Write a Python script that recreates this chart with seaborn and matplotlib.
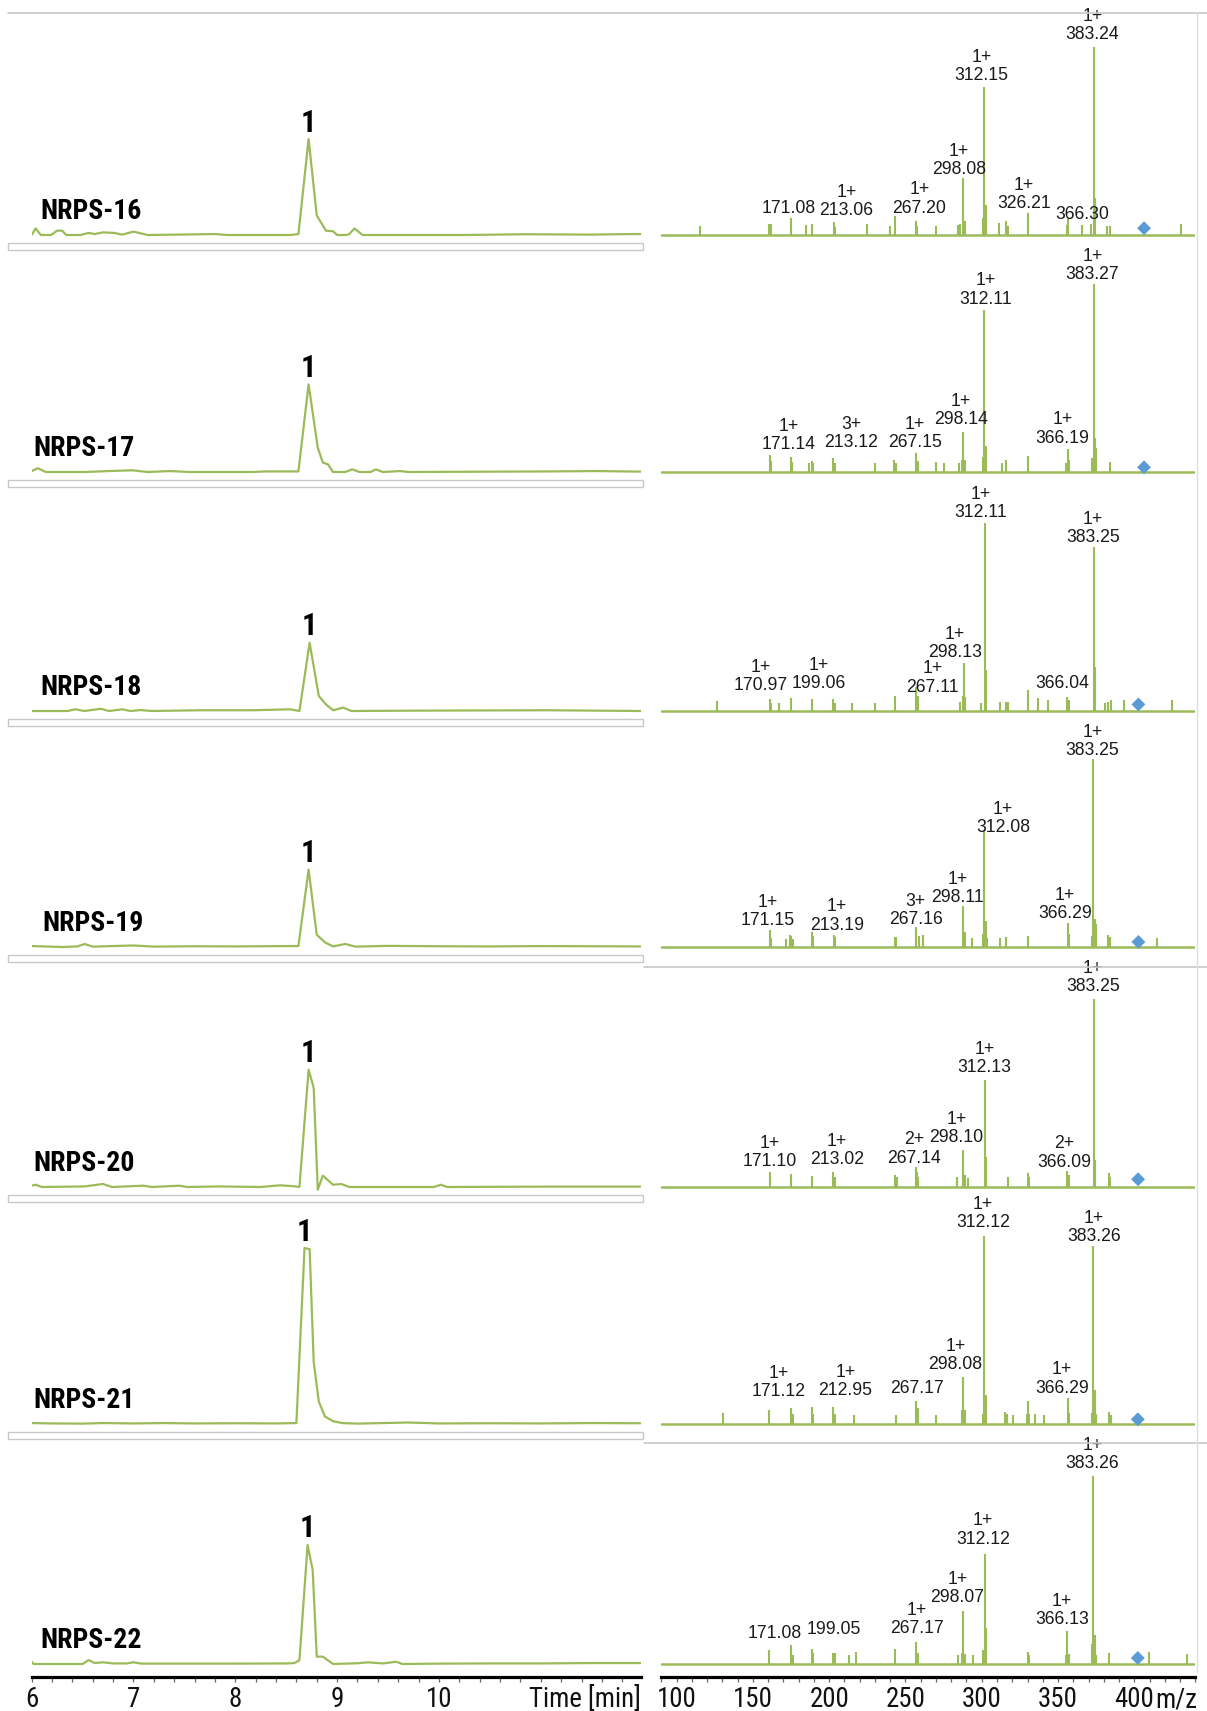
import matplotlib
matplotlib.use('Agg')
import matplotlib.pyplot as plt
from matplotlib import font_manager
from matplotlib.lines import Line2D
from matplotlib.patches import Rectangle
from matplotlib.ticker import MultipleLocator
import seaborn as sns

# ---- data ------------------------------------------------------------------
samples = ['NRPS-16', 'NRPS-17', 'NRPS-18', 'NRPS-19', 'NRPS-20', 'NRPS-21', 'NRPS-22']

# chromatograms: retention time [min] and relative signal
t_16 = [6.00, 6.04, 6.09, 6.19, 6.25, 6.30, 6.34, 6.48, 6.56, 6.62, 6.70, 6.81, 6.89, 7.00, 7.14, 7.43, 7.80,
        7.92, 8.54, 8.62, 8.72, 8.80, 8.89, 8.96, 9.00, 9.09, 9.12, 9.17, 9.25, 10.24, 10.86, 11.48, 11.89, 11.98]
i_16 = [0, 3.5, 0, 0, 2.3, 2.3, 0, 0, 1.1, 0.5, 1.4, 1.1, 0.2, 1.8, 0, 0.2, 0.5,
        0, 0, 0.5, 51.0, 10.5, 2.3, 2.0, 0, 0, 0.5, 3.5, 0, 0, 0.4, 0.2, 0.5, 0.5]
t_17 = [6.00, 6.06, 6.14, 6.52, 6.76, 6.99, 7.14, 7.36, 7.55, 8.17, 8.29, 8.62, 8.72, 8.81, 8.86, 8.91, 8.96,
        9.08, 9.15, 9.22, 9.33, 9.38, 9.45, 9.62, 9.70, 11.06, 11.56, 11.98]
i_17 = [0.5, 2.0, 0, 0, 0.5, 0.9, 0, 0.5, 0, 0, 0.3, 0.3, 46.6, 12.9, 5.0, 4.1, 0,
        0, 1.4, 0, 0, 1.4, 0, 0.5, 0, 0.3, 0.5, 0.2]
t_18 = [6.00, 6.35, 6.43, 6.52, 6.68, 6.76, 6.89, 6.97, 7.07, 7.18, 7.67, 8.17, 8.54, 8.63, 8.73, 8.82, 8.89,
        8.96, 9.06, 9.14, 9.82, 11.06, 11.98]
i_18 = [0, 0, 0.9, 0, 1.2, 0, 0.9, 0, 0.5, 0, 0.4, 0.4, 0.9, 0, 36.3, 8.0, 3.5,
        0.4, 1.8, 0, 0.2, 0.4, 0]
t_19 = [6.00, 6.30, 6.45, 6.52, 6.60, 6.80, 7.00, 7.20, 7.60, 8.00, 8.50, 8.62, 8.72, 8.80, 8.88, 8.96, 9.08,
        9.18, 9.50, 10.00, 10.50, 11.00, 11.50, 11.98]
i_19 = [0.5, 0, 0.3, 1.6, 0.2, 0.5, 0.8, 0.2, 0.4, 0.3, 0.5, 0.5, 41.2, 6.5, 2.5, 0.3, 1.6,
        0.2, 0.6, 0.4, 0.3, 0.5, 0.4, 0.3]
t_20 = [6.00, 6.04, 6.10, 6.52, 6.70, 6.79, 7.10, 7.18, 7.45, 7.53, 7.84, 8.25, 8.44, 8.58, 8.63, 8.72, 8.77,
        8.81, 8.86, 8.96, 9.04, 9.12, 9.95, 10.02, 10.08, 11.06, 11.98]
i_20 = [0.7, 1.2, 0, 0.3, 1.6, 0, 0.7, 0, 0.7, 0, 0.3, 0, 0.9, 0.4, 0, 62.4, 52.7,
        -1.4, 6.0, 1.2, 1.6, 0, 0, 1.2, 0, 0.2, 0.2]
t_21 = [6.00, 6.20, 6.50, 6.70, 7.00, 7.30, 7.60, 8.00, 8.40, 8.60, 8.68, 8.73, 8.77, 8.82, 8.88, 8.96, 9.05,
        9.20, 9.70, 10.00, 10.50, 11.00, 11.50, 11.98]
i_21 = [0.5, 0.3, 0.2, 0.5, 0.3, 0.5, 0.3, 0.4, 0.3, 0.5, 93.6, 93.0, 33.0, 12.0, 4.0, 1.5, 0.5,
        0.2, 0.8, 0.3, 0.4, 0.3, 0.5, 0.4]
t_22 = [6.00, 6.02, 6.50, 6.56, 6.62, 6.70, 6.80, 6.93, 7.00, 7.08, 7.50, 8.00, 8.50, 8.58, 8.63, 8.71, 8.76,
        8.80, 8.86, 8.96, 9.20, 9.30, 9.45, 9.58, 9.64, 10.00, 10.50, 11.00, 11.50, 11.98]
i_22 = [1.2, 0, 0, 2.1, 0.5, 0.9, 0.3, 0.3, 0.9, 0.2, 0.2, 0.2, 0.3, 0.5, 2.0, 63.3, 50.0,
        3.9, 3.9, 0, 0.4, 0.9, 0.3, 1.2, 0, 0.2, 0.3, 0.3, 0.5, 0.5]

# mass spectra: m/z position on the drawn axis and relative abundance [%]
mz_16 = [115.6, 160.8, 161.6, 175.0, 185.0, 188.7, 203.0, 203.9, 225.0, 239.8, 243.0, 256.6, 257.5, 270.0,
         284.3, 285.7, 288.0, 289.2, 301.0, 301.5, 302.9, 311.3, 316.2, 317.4, 330.2, 355.6, 356.7, 366.0,
         371.9, 373.3, 374.2, 382.4, 384.0, 430.6]
ab_16 = [4.6, 6.0, 6.0, 9.1, 5.2, 5.9, 6.7, 4.5, 5.9, 4.6, 10.3, 7.6, 5.0, 4.8,
         5.5, 6.0, 30.2, 7.6, 9.0, 78.9, 16.2, 6.4, 7.6, 5.0, 11.7, 5.2, 9.1, 5.2,
         6.0, 100, 19.7, 4.6, 4.6, 5.9]
mz_17 = [161.0, 161.9, 175.0, 175.9, 186.7, 188.7, 189.6, 202.5, 203.6, 229.8, 242.8, 243.9, 256.8, 257.9,
         270.0, 275.4, 285.2, 286.8, 288.0, 289.2, 301.0, 301.8, 302.9, 313.6, 315.7, 330.2, 355.1, 356.5,
         357.4, 372.1, 373.3, 374.2, 375.1, 383.8]
ab_17 = [9.2, 6.0, 8.2, 5.5, 4.6, 6.0, 5.0, 7.5, 5.0, 4.6, 6.2, 5.0, 10.3, 6.0,
         5.2, 4.6, 4.6, 6.2, 21.5, 6.2, 8.2, 86.0, 14.0, 4.6, 6.6, 8.7, 4.6, 12.4,
         6.6, 7.5, 100, 18.0, 12.8, 5.2]
mz_18 = [126.7, 160.9, 161.9, 166.8, 174.8, 188.8, 202.6, 203.5, 215.1, 230.1, 243.1, 256.9, 258.0, 286.0,
         287.5, 288.2, 289.1, 299.3, 301.9, 302.9, 312.1, 315.9, 317.1, 330.4, 336.8, 343.4, 355.8, 357.0,
         373.3, 374.2, 381.1, 383.0, 384.7, 393.2, 425.0]
ab_18 = [5.1, 6.4, 4.5, 4.4, 6.9, 6.4, 6.4, 4.5, 4.4, 4.4, 8.2, 12.8, 8.0, 5.0,
         8.2, 25.5, 7.5, 4.4, 100, 22.0, 5.0, 5.0, 5.0, 11.3, 6.9, 5.7, 7.4, 6.0,
         87.2, 23.4, 4.4, 4.8, 5.7, 5.7, 5.7]
mz_19 = [161.0, 161.9, 171.9, 174.0, 175.2, 176.4, 188.7, 189.6, 203.0, 203.9, 243.0, 244.1, 256.7, 258.8,
         261.4, 288.0, 289.1, 293.5, 300.7, 301.7, 302.8, 303.7, 312.1, 315.6, 330.1, 356.4, 357.3, 372.0,
         373.2, 374.1, 375.0, 383.0, 384.4, 415.1]
ab_19 = [8.9, 5.0, 4.4, 6.2, 6.0, 4.4, 7.8, 6.0, 6.4, 5.5, 5.5, 5.5, 10.7, 5.9,
         6.2, 21.8, 8.0, 4.6, 6.8, 62.2, 13.9, 5.0, 4.6, 5.3, 5.9, 13.0, 6.8, 5.9,
         100, 14.7, 12.0, 6.4, 5.3, 4.6]
mz_20 = [160.9, 174.8, 188.8, 202.6, 203.5, 243.4, 244.4, 256.6, 257.5, 258.5, 284.1, 288.0, 289.1, 291.0,
         301.9, 302.9, 317.1, 330.4, 331.3, 356.2, 357.1, 373.3, 374.2, 383.5, 384.4]
ab_20 = [8.0, 7.1, 6.1, 8.0, 5.5, 6.2, 5.5, 10.4, 8.0, 5.5, 5.4, 19.6, 6.2, 5.0,
         57.1, 16.0, 5.4, 7.5, 5.5, 8.6, 6.5, 100, 14.6, 7.5, 5.5]
mz_21 = [130.7, 160.5, 175.0, 176.1, 188.7, 189.6, 202.7, 203.8, 216.0, 244.1, 256.7, 257.9, 270.2, 286.8,
         287.7, 288.8, 301.0, 301.7, 302.8, 315.4, 316.3, 320.3, 329.4, 330.1, 331.0, 335.0, 341.0, 356.4,
         357.3, 372.0, 373.2, 374.1, 375.0, 383.4, 384.5]
ab_21 = [5.7, 7.5, 8.4, 5.2, 9.1, 5.2, 9.1, 5.2, 4.7, 4.7, 12.3, 8.4, 4.7, 7.5,
         25.0, 7.5, 5.2, 100, 15.6, 6.4, 5.2, 4.7, 5.2, 12.3, 5.2, 5.2, 4.7, 13.8,
         5.7, 6.1, 94.8, 18.2, 5.2, 6.4, 4.7]
mz_22 = [160.8, 175.0, 176.1, 188.5, 189.4, 202.7, 203.8, 212.7, 217.6, 243.0, 256.7, 257.9, 284.2, 286.8,
         287.7, 288.8, 294.0, 301.0, 301.9, 303.1, 330.1, 331.3, 355.5, 356.2, 357.3, 372.0, 373.2, 374.1,
         375.0, 383.2, 409.7, 434.4]
ab_22 = [7.5, 10.2, 4.7, 8.2, 5.7, 6.1, 6.1, 4.7, 6.6, 8.2, 11.6, 5.7, 4.7, 5.7,
         28.1, 5.4, 4.7, 7.5, 58.5, 19.1, 6.6, 4.7, 4.7, 17.4, 5.4, 10.5, 100, 15.6,
         4.7, 5.7, 6.4, 5.2]

# precursor markers (blue diamonds)
prec_mz = [406.4, 406.4, 402.7, 402.7, 402.5, 402.3, 402.3]
prec_ab = [3.6, 2.5, 3.5, 2.7, 4.1, 2.5, 3.2]

# peak annotations: (text, m/z, height of text bottom)
lab_16 = [('171.08', 173.4, 9.7), ('1+\n213.06', 211.3, 8.3), ('1+\n267.20', 259.1, 9.7),
          ('1+\n298.08', 285.2, 30.1), ('1+\n312.15', 299.9, 80.2), ('1+\n326.21', 327.8, 12.0),
          ('366.30', 365.6, 6.2), ('1+\n383.24', 372.6, 102.0)]
lab_17 = [('1+\n171.14', 173.4, 9.9), ('3+\n213.12', 214.6, 11.1), ('1+\n267.15', 256.1, 11.1),
          ('1+\n298.14', 286.4, 23.2), ('1+\n312.11', 302.7, 87.5), ('1+\n366.19', 352.8, 13.5),
          ('1+\n383.27', 372.6, 100.5)]
lab_18 = [('1+\n170.97', 155.4, 9.0), ('1+\n199.06', 193.3, 9.9), ('1+\n267.11', 268.0, 8.1),
          ('1+\n298.13', 282.2, 26.7), ('1+\n312.11', 299.6, 100.8), ('366.04', 352.9, 9.9),
          ('1+\n383.25', 372.8, 87.5)]
lab_19 = [('1+\n171.15', 159.4, 9.5), ('1+\n213.19', 205.2, 7.1), ('3+\n267.16', 256.7, 10.1),
          ('1+\n298.11', 284.0, 21.6), ('1+\n312.08', 313.8, 58.9), ('1+\n366.29', 354.5, 13.1),
          ('1+\n383.25', 372.5, 100.1)]
lab_20 = [('1+\n171.10', 160.9, 9.1), ('1+\n213.02', 205.2, 10.1), ('2+\n267.14', 255.6, 10.9),
          ('1+\n298.10', 283.4, 21.6), ('1+\n312.13', 301.9, 59.1), ('2+\n366.09', 353.8, 8.7),
          ('1+\n383.25', 372.8, 101.9)]
lab_21 = [('1+\n171.12', 166.8, 12.7), ('1+\n212.95', 210.6, 13.2), ('267.17', 257.6, 14.1),
          ('1+\n298.08', 282.8, 27.0), ('1+\n312.12', 300.7, 102.7), ('1+\n366.29', 352.7, 14.5),
          ('1+\n383.26', 373.6, 95.3)]
lab_22 = [('171.08', 164.0, 11.8), ('199.05', 202.9, 13.6), ('1+\n267.17', 257.6, 14.1),
          ('1+\n298.07', 284.0, 30.6), ('1+\n312.12', 300.7, 61.9), ('1+\n366.13', 352.7, 18.9),
          ('1+\n383.26', 372.5, 102.1)]

time_ticks = [6, 7, 8, 9, 10]
mz_ticks = [100, 150, 200, 250, 300, 350, 400]

chrom_t = [t_16, t_17, t_18, t_19, t_20, t_21, t_22]
chrom_i = [i_16, i_17, i_18, i_19, i_20, i_21, i_22]
spec_mz = [mz_16, mz_17, mz_18, mz_19, mz_20, mz_21, mz_22]
spec_ab = [ab_16, ab_17, ab_18, ab_19, ab_20, ab_21, ab_22]
spec_lab = [lab_16, lab_17, lab_18, lab_19, lab_20, lab_21, lab_22]

# ---- style / layout -------------------------------------------------------
sns.set_theme(style='white')
available = {f.name for f in font_manager.fontManager.ttflist}
narrow_candidates = ['Liberation Sans Narrow', 'Roboto Condensed', 'Open Sans Condensed', 'Liberation Sans']
NARROW = next(n for n in narrow_candidates if n in available or n == 'Liberation Sans')
plt.rcParams['font.family'] = ['Liberation Sans', 'DejaVu Sans']

GREEN = '#9BBB59'
BLUE = '#5B9BD5'
GRID_GRAY = '#c8c8c8'

W, H = 1207, 1711
baselines = [235, 472, 711, 947, 1187, 1424, 1664]   # pixel rows of each trace baseline
ABOVE, BELOW = 220, 13
PX_PER_UNIT = 1.88
left_px = (31.6, 640.6)
right_px = (661.4, 1195.3)
name_x = [6.09, 6.02, 6.09, 6.11, 6.02, 6.02, 6.09]

fig = plt.figure(figsize=(W / 100, H / 100), dpi=100)
fig.patch.set_facecolor('white')
renderer = fig.canvas.get_renderer()


def fitted_size(text, base, target_px, weight='normal'):
    # font size that gives the text the width it has in the reference
    probe = fig.text(0, 0, text, fontsize=base, family=NARROW, fontweight=weight)
    width = probe.get_window_extent(renderer=renderer).width
    probe.remove()
    return base * target_px / width


NAME_SIZE = min(21, fitted_size('NRPS-16', 21, 101, 'bold'))
TICK_SIZE = min(20, fitted_size('Time [min]', 20, 112))


def panel(xpx, yb):
    ax = fig.add_axes([xpx[0] / W, 1 - (yb + BELOW) / H, (xpx[1] - xpx[0]) / W, (ABOVE + BELOW) / H])
    ax.set_ylim(-BELOW / PX_PER_UNIT, ABOVE / PX_PER_UNIT)
    ax.set_facecolor('none')
    for s in ax.spines.values():
        s.set_visible(False)
    ax.set_xticks([])
    ax.set_yticks([])
    return ax


def bottom_axis(ax, ticks, minor, end_label, end_pos):
    ax.spines['bottom'].set_visible(True)
    ax.spines['bottom'].set_color('black')
    ax.spines['bottom'].set_linewidth(2.3)
    ax.set_xticks(ticks + [end_pos])
    ax.set_xticklabels([str(v) for v in ticks] + [end_label])
    ax.xaxis.set_minor_locator(MultipleLocator(minor))
    ax.tick_params(axis='x', which='both', direction='out', length=3.5, width=0.9, color='#666666',
                   bottom=True, pad=3, labelsize=TICK_SIZE, labelcolor='#111111')
    for lbl in ax.get_xticklabels():
        lbl.set_family(NARROW)
    ax.xaxis.get_major_ticks()[-1].tick1line.set_visible(False)


for k, yb in enumerate(baselines):
    # chromatogram
    axl = panel(left_px, yb)
    axl.set_xlim(6.0, 11.98)
    sns.lineplot(x=chrom_t[k], y=chrom_i[k], ax=axl, color=GREEN, linewidth=1.6,
                 estimator=None, sort=False)
    top = max(chrom_i[k])
    t_top = chrom_t[k][chrom_i[k].index(top)]
    axl.text(t_top, top + 4, '1', ha='center', va='baseline', fontsize=22, fontweight='bold',
             family=NARROW, color='black')
    axl.text(name_x[k], 8.5, samples[k], ha='left', va='baseline', fontsize=NAME_SIZE, fontweight='bold',
             family=NARROW, color='black')
    axl.set_xlabel('')
    axl.set_ylabel('')

    # mass spectrum
    axr = panel(right_px, yb)
    axr.set_xlim(90, 440)
    axr.axhline(0, color=GREEN, linewidth=1.8, zorder=2)
    axr.vlines(spec_mz[k], 0, spec_ab[k], colors=GREEN, linewidth=1.5, zorder=2)
    sns.scatterplot(x=[prec_mz[k]], y=[prec_ab[k]], ax=axr, marker='D', s=50, color=BLUE,
                    edgecolor='none', zorder=3)
    for text, x, y in spec_lab[k]:
        axr.text(x, y, text, ha='center', va='bottom', fontsize=12.7, color='#1a1a1a',
                 linespacing=1.1, zorder=4)
    axr.set_xlabel('')
    axr.set_ylabel('')

    if k == len(baselines) - 1:
        bottom_axis(axl, time_ticks, 0.2, 'Time [min]', 11.43)
        bottom_axis(axr, mz_ticks, 10, 'm/z', 427.5)

# frame decorations of the original composite
fig.add_artist(Line2D([8 / W, 1.0], [1 - 13 / H, 1 - 13 / H], color=GRID_GRAY, linewidth=1.2))
for yline in (967, 1443):
    fig.add_artist(Line2D([644 / W, 1.0], [1 - yline / H, 1 - yline / H], color=GRID_GRAY, linewidth=1.2))
fig.add_artist(Line2D([1197 / W, 1197 / W], [1 - 13 / H, 1 - 1672 / H], color='#dddddd', linewidth=1.0))
for yb in baselines[:-1]:
    fig.add_artist(Rectangle((8 / W, 1 - (yb + 15) / H), 635 / W, 7 / H, transform=fig.transFigure,
                             facecolor='none', edgecolor=GRID_GRAY, linewidth=1.0))

fig.savefig('out.png', dpi=100, facecolor='white')
